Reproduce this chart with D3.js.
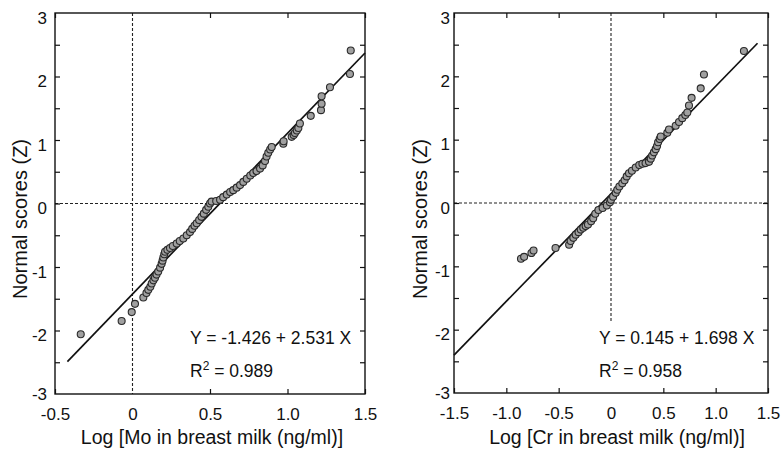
<!DOCTYPE html>
<html>
<head>
<meta charset="utf-8">
<script src="https://cdn.jsdelivr.net/npm/d3@7"></script>
<style>
  body { margin: 0; background: #fff; }
  text { font-family: "Liberation Sans", Arial, Helvetica, sans-serif; fill: #111; }
</style>
</head>
<body>
<div id="chart"></div>
<script>
var svgWidth = 782;
var svgHeight = 451;

// Mo panel: [log concentration, normal score]
var moData = [
  [-0.334, -2.06], [-0.07, -1.85], [-0.005, -1.71], [0.016, -1.58], [0.07, -1.48],
  [0.09, -1.41], [0.102, -1.36], [0.115, -1.31], [0.124, -1.26], [0.135, -1.21],
  [0.145, -1.17], [0.155, -1.12], [0.166, -1.07], [0.178, -1.01], [0.188, -0.95],
  [0.194, -0.90], [0.199, -0.85], [0.205, -0.80], [0.21, -0.76], [0.225, -0.73],
  [0.242, -0.70], [0.26, -0.67], [0.285, -0.63], [0.305, -0.59], [0.328, -0.55],
  [0.35, -0.50], [0.371, -0.45], [0.385, -0.40], [0.40, -0.35], [0.414, -0.31],
  [0.43, -0.26], [0.445, -0.21], [0.46, -0.16], [0.475, -0.10], [0.489, -0.05],
  [0.50, 0.0], [0.51, 0.03], [0.54, 0.04], [0.565, 0.06], [0.585, 0.10],
  [0.608, 0.14], [0.63, 0.18], [0.65, 0.21], [0.672, 0.25], [0.694, 0.29],
  [0.715, 0.34], [0.737, 0.39], [0.76, 0.44], [0.779, 0.48], [0.80, 0.51],
  [0.823, 0.55], [0.84, 0.60], [0.855, 0.67], [0.865, 0.74], [0.876, 0.80],
  [0.888, 0.85], [0.898, 0.89], [0.973, 0.94], [0.975, 0.98], [1.027, 1.05],
  [1.04, 1.08], [1.048, 1.11], [1.06, 1.15], [1.07, 1.19], [1.08, 1.26],
  [1.15, 1.38], [1.216, 1.47], [1.22, 1.57], [1.22, 1.69], [1.274, 1.83],
  [1.403, 2.04], [1.408, 2.41]
];

// Cr panel: [log concentration, normal score]
var crData = [
  [-0.86, -0.88], [-0.83, -0.85], [-0.76, -0.79], [-0.74, -0.75], [-0.53, -0.71],
  [-0.40, -0.66], [-0.385, -0.60], [-0.36, -0.55], [-0.337, -0.50], [-0.31, -0.46],
  [-0.289, -0.42], [-0.265, -0.39], [-0.242, -0.365], [-0.22, -0.34], [-0.19, -0.29],
  [-0.17, -0.24], [-0.15, -0.17], [-0.12, -0.11], [-0.08, -0.08], [-0.04, -0.04],
  [-0.01, 0.01], [0.0, 0.05], [0.02, 0.10], [0.045, 0.16], [0.06, 0.21],
  [0.08, 0.26], [0.108, 0.31], [0.13, 0.36], [0.15, 0.42], [0.172, 0.47],
  [0.20, 0.51], [0.236, 0.56], [0.27, 0.60], [0.30, 0.62], [0.33, 0.63],
  [0.363, 0.65], [0.38, 0.70], [0.394, 0.75], [0.41, 0.80], [0.427, 0.85],
  [0.44, 0.90], [0.45, 0.96], [0.465, 1.01], [0.475, 1.05], [0.538, 1.11],
  [0.554, 1.16], [0.618, 1.22], [0.65, 1.28], [0.681, 1.34], [0.71, 1.39],
  [0.729, 1.43], [0.745, 1.54], [0.77, 1.66], [0.857, 1.81], [0.888, 2.03],
  [1.27, 2.40]
];

// regression fits: [intercept, slope], and x range the line covers
var moFit = [-1.426, 2.531];
var crFit = [0.145, 1.698];
var moFitRange = [-0.42, 1.5];
var crFitRange = [-1.5, 1.4];

var moXTicks = [-0.5, 0, 0.5, 1.0, 1.5];
var crXTicks = [-1.5, -1.0, -0.5, 0, 0.5, 1.0, 1.5];
var yLabelTicks = [-3, -2, -1, 0, 1, 2, 3];
var yMinorTicks = [-2.5, -2, -1.5, -1, -0.5, 0, 0.5, 1, 1.5, 2, 2.5];

var panels = [
  { data: moData, fit: moFit, fitRange: moFitRange, xDomain: [-0.5, 1.5], xTicks: moXTicks,
    left: 55, right: 365, top: 13, bottom: 394, vLineMin: -3, yLabelPad: 8, yTitleX: 27,
    xTitleX: 212, xTitle: "Log [Mo in breast milk (ng/ml)]", eqX: 190, eq: "Y = -1.426 + 2.531 X", r2: "0.989" },
  { data: crData, fit: crFit, fitRange: crFitRange, xDomain: [-1.5, 1.5], xTicks: crXTicks,
    left: 454, right: 768, top: 13, bottom: 393, vLineMin: -1.87, yLabelPad: 4, yTitleX: 427,
    xTitleX: 617, xTitle: "Log [Cr in breast milk (ng/ml)]", eqX: 599, eq: "Y = 0.145 + 1.698 X", r2: "0.958" }
];

var svg = d3.select("#chart")
  .append("svg")
  .attr("width", svgWidth)
  .attr("height", svgHeight);

panels.forEach(function(p) { RenderPanel(p); });

// plain hyphen for negatives, like the original figure
function xFmt(d) {
  return d === 0 ? "0" : (d < 0 ? "-" : "") + Math.abs(d).toFixed(1);
}
function yFmt(d) {
  return (d < 0 ? "-" : "") + Math.abs(d);
}

function RenderPanel(p) {
  var x = d3.scaleLinear().domain(p.xDomain).range([p.left, p.right]);
  var y = d3.scaleLinear().domain([-3, 3]).range([p.bottom, p.top]);
  var g = svg.append("g");

  // reference lines at zero
  g.append("line")
    .attr("x1", x(0)).attr("x2", x(0))
    .attr("y1", y(3)).attr("y2", y(p.vLineMin))
    .attr("stroke", "#222").attr("stroke-width", 1.1)
    .attr("stroke-dasharray", "3,2");
  g.append("line")
    .attr("x1", p.left).attr("x2", p.right)
    .attr("y1", y(0)).attr("y2", y(0))
    .attr("stroke", "#222").attr("stroke-width", 1.1)
    .attr("stroke-dasharray", "3,2");

  // inward tick marks on all four sides
  var innerX = p.xTicks.filter(function(d) { return d !== 0; });
  g.append("g").attr("transform", `translate(0, ${p.bottom})`)
    .call(d3.axisBottom(x).tickValues(innerX).tickSize(-5).tickFormat(""));
  g.append("g").attr("transform", `translate(0, ${p.top})`)
    .call(d3.axisTop(x).tickValues(innerX).tickSize(-5).tickFormat(""));
  g.append("g").attr("transform", `translate(${p.left}, 0)`)
    .call(d3.axisLeft(y).tickValues(yMinorTicks).tickSize(-5).tickFormat(""));
  g.append("g").attr("transform", `translate(${p.right}, 0)`)
    .call(d3.axisRight(y).tickValues(yMinorTicks).tickSize(-5).tickFormat(""));
  g.selectAll(".domain").remove();
  g.selectAll(".tick line").attr("stroke", "#111").attr("stroke-width", 1.2);

  // tick labels
  var xLab = g.append("g").attr("transform", `translate(0, ${p.bottom})`)
    .call(d3.axisBottom(x).tickValues(p.xTicks).tickSize(0).tickPadding(14).tickFormat(xFmt));
  var yLab = g.append("g").attr("transform", `translate(${p.left}, 0)`)
    .call(d3.axisLeft(y).tickValues(yLabelTicks).tickSize(0).tickPadding(p.yLabelPad).tickFormat(yFmt));
  xLab.select(".domain").remove();
  yLab.select(".domain").remove();
  xLab.selectAll("text").style("font-size", "17px").attr("fill", "#111");
  yLab.selectAll("text").style("font-size", "17px").attr("fill", "#111").attr("dy", "0.6em");
  // the bottom "-3" sits tight above the x labels
  yLab.selectAll("text").filter(d => d === -3).attr("dy", "0.35em");

  // frame
  g.append("rect")
    .attr("x", p.left).attr("y", p.top)
    .attr("width", p.right - p.left).attr("height", p.bottom - p.top)
    .attr("fill", "none").attr("stroke", "#111").attr("stroke-width", 1.4);

  // regression line
  var fitY = function(v) { return p.fit[0] + p.fit[1] * v; };
  g.append("line")
    .attr("x1", x(p.fitRange[0])).attr("y1", y(fitY(p.fitRange[0])))
    .attr("x2", x(p.fitRange[1])).attr("y2", y(fitY(p.fitRange[1])))
    .attr("stroke", "#111").attr("stroke-width", 1.7);

  // points
  g.selectAll("circle")
    .data(p.data)
    .enter()
    .append("circle")
    .attr("cx", d => x(d[0]))
    .attr("cy", d => y(d[1]))
    .attr("r", 3.5)
    .attr("fill", "#a0a0a0")
    .attr("stroke", "#2a2a2a")
    .attr("stroke-width", 1.1);

  // equation
  g.append("text")
    .attr("x", p.eqX).attr("y", 344)
    .style("font-size", "17.5px")
    .text(p.eq);
  var r2 = g.append("text")
    .attr("x", p.eqX).attr("y", 377)
    .style("font-size", "17.5px");
  r2.append("tspan").text("R");
  r2.append("tspan").attr("dy", -7).style("font-size", "12px").text("2");
  r2.append("tspan").attr("dy", 7).text(" = " + p.r2);

  // axis titles
  g.append("text")
    .attr("x", p.xTitleX).attr("y", 444)
    .attr("text-anchor", "middle")
    .style("font-size", "19.5px")
    .text(p.xTitle);
  g.append("text")
    .attr("transform", `translate(${p.yTitleX}, 219) rotate(-90)`)
    .attr("text-anchor", "middle")
    .style("font-size", "20px")
    .text("Normal scores (Z)");
}
</script>
</body>
</html>
